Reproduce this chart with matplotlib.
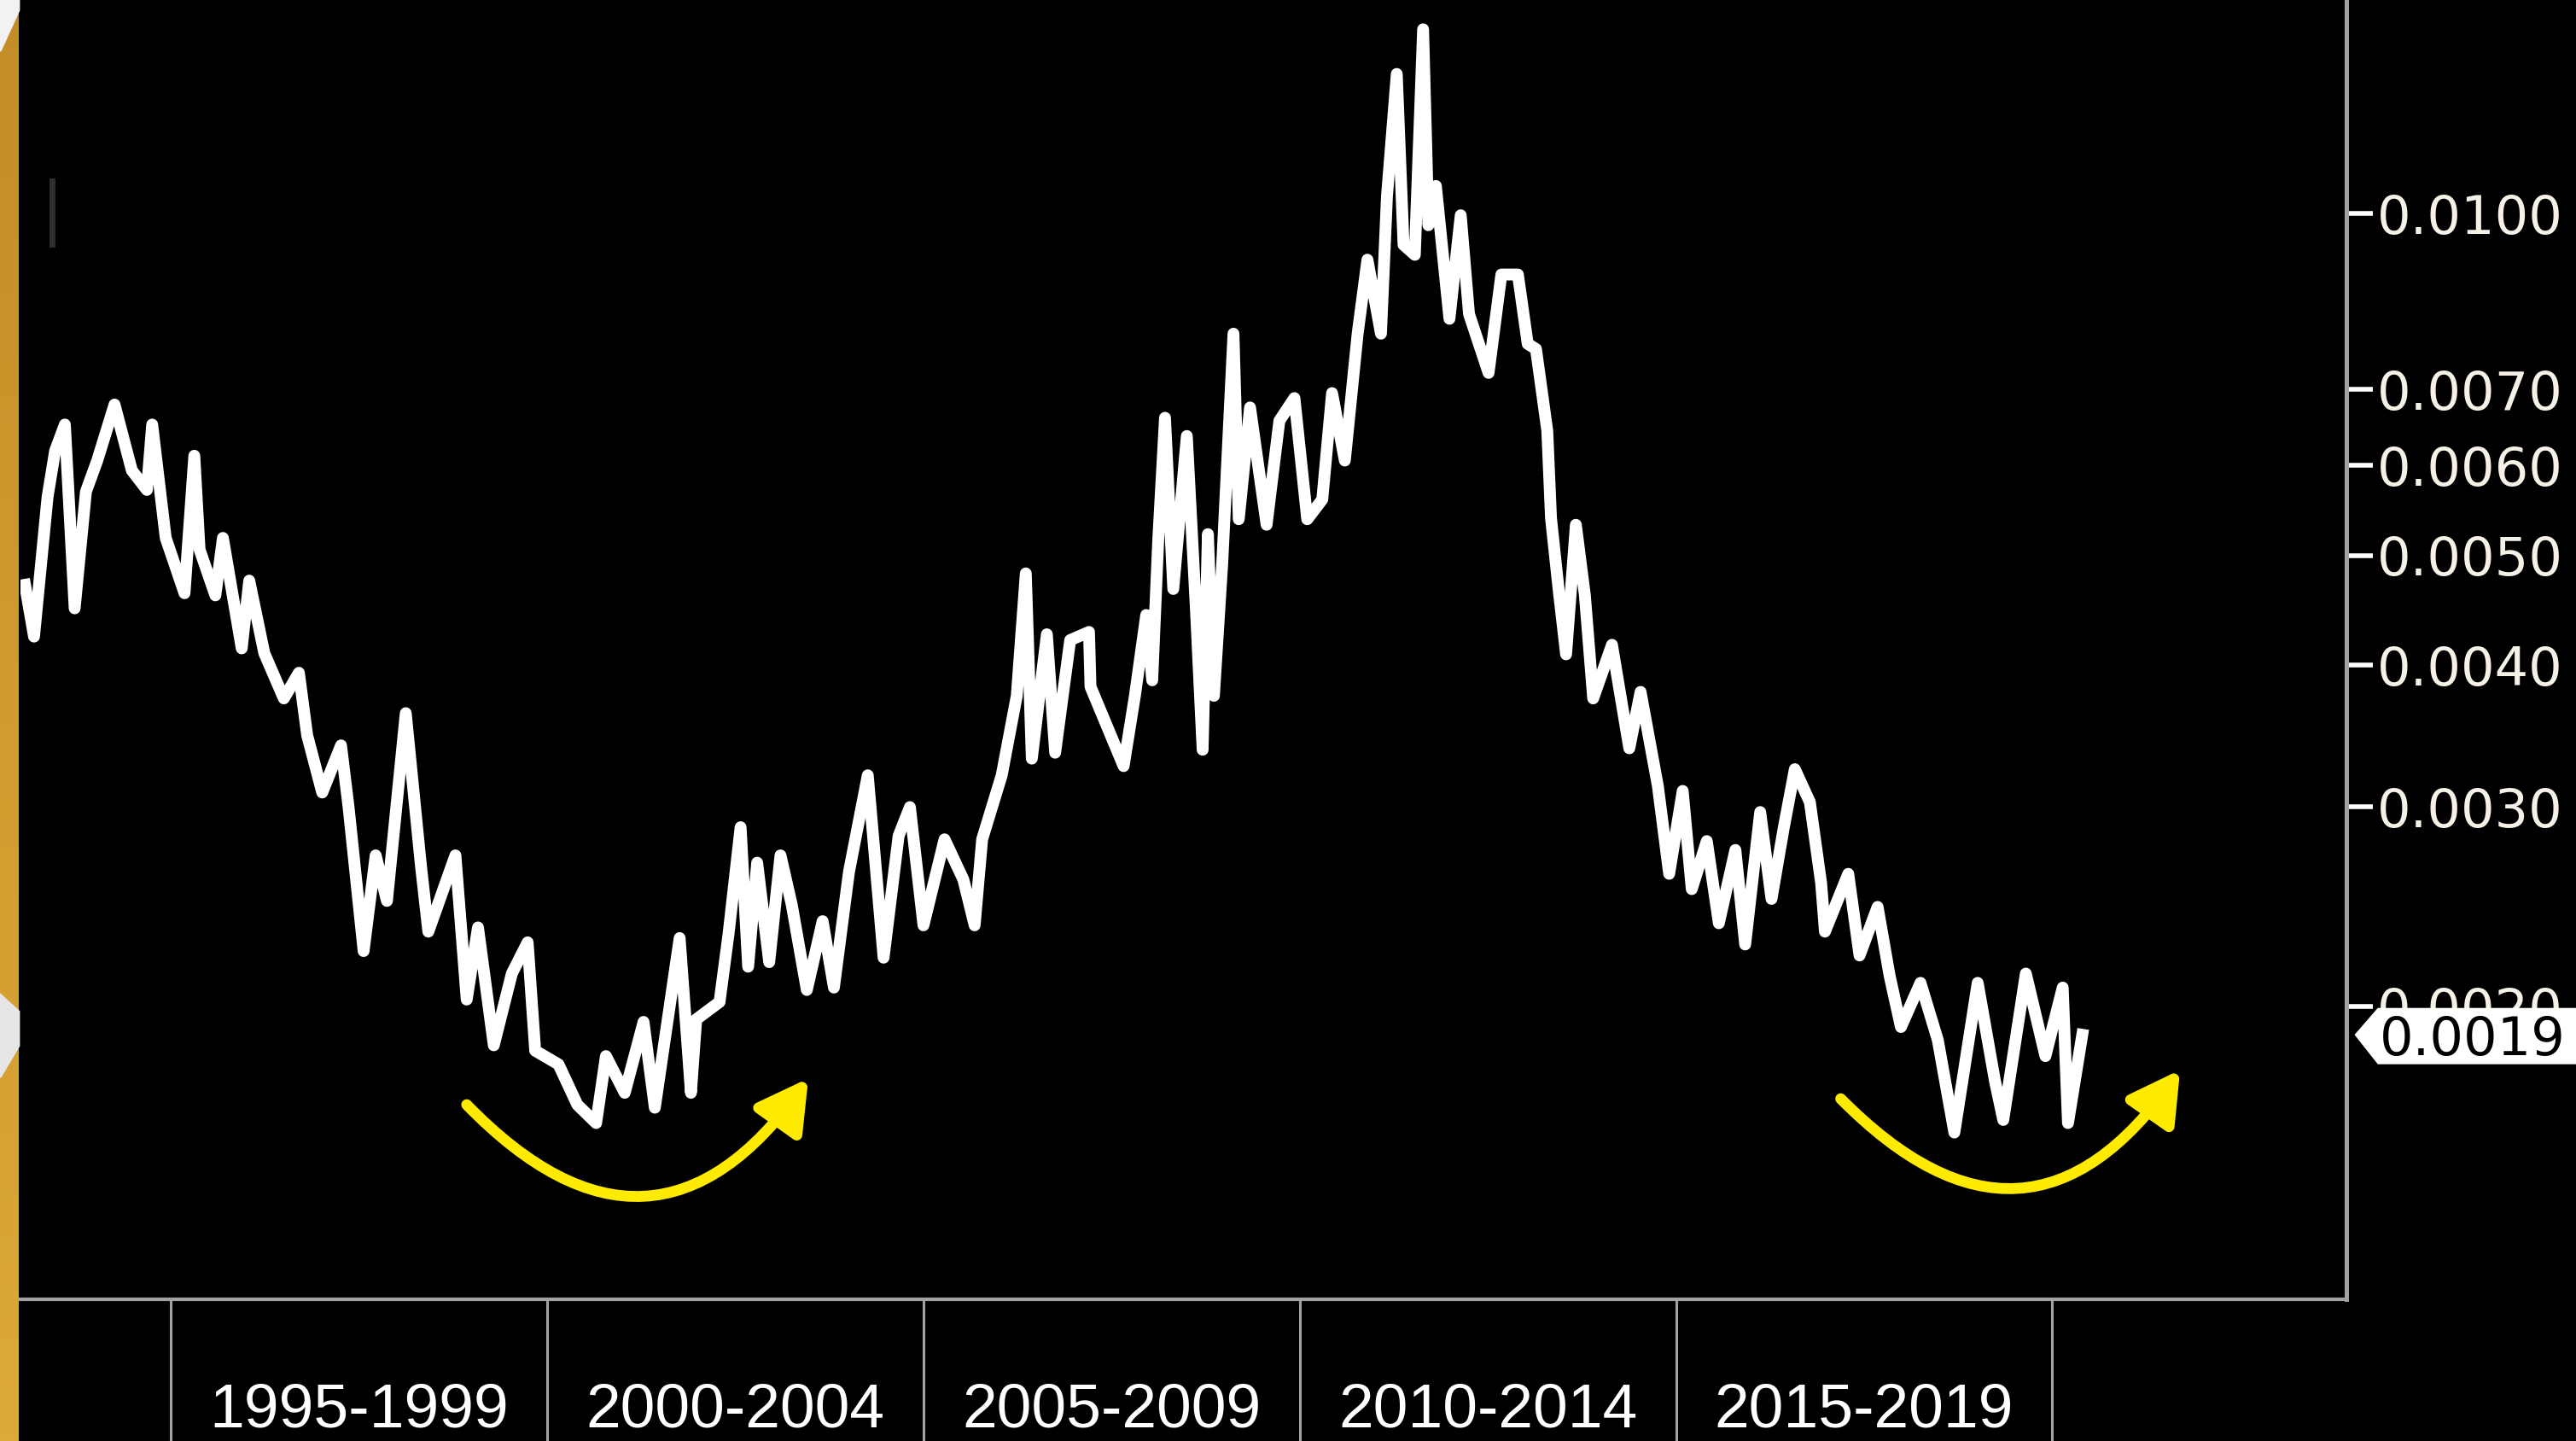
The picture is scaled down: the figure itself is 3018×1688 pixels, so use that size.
import matplotlib
matplotlib.use("Agg")
import matplotlib.pyplot as plt
import numpy as np
from matplotlib.colors import LinearSegmentedColormap
from matplotlib.patches import FancyArrowPatch, Polygon
from matplotlib.ticker import FixedLocator, NullLocator

# ---- data (decimal year, value) ----
YEARS = [
    1993.06, 1993.18, 1993.36, 1993.46, 1993.59, 1993.72, 1993.87, 1994.02,
    1994.25, 1994.48, 1994.68, 1994.75, 1994.93, 1995.18, 1995.31, 1995.38,
    1995.59, 1995.69, 1995.94, 1996.04, 1996.24, 1996.50, 1996.70, 1996.81,
    1997.01, 1997.26, 1997.36, 1997.56, 1997.72, 1997.87, 1998.12, 1998.32,
    1998.42, 1998.78, 1998.93, 1999.08, 1999.29, 1999.53, 1999.74, 1999.84,
    2000.15, 2000.40, 2000.65, 2000.78, 2001.03, 2001.28, 2001.43, 2001.76,
    2001.91, 2001.98, 2002.29, 2002.41, 2002.57, 2002.67, 2002.79, 2002.95,
    2003.10, 2003.25, 2003.45, 2003.66, 2003.81, 2004.01, 2004.26, 2004.47,
    2004.67, 2004.82, 2005.00, 2005.28, 2005.53, 2005.68, 2005.78, 2006.04,
    2006.24, 2006.36, 2006.44, 2006.64, 2006.75, 2006.95, 2007.20, 2007.22,
    2007.66, 2007.81, 2007.96, 2008.04, 2008.12, 2008.21, 2008.32, 2008.50,
    2008.62, 2008.71, 2008.78, 2008.86, 2008.97, 2009.12, 2009.19, 2009.34,
    2009.56, 2009.73, 2009.93, 2010.10, 2010.30, 2010.43, 2010.60, 2010.77,
    2010.90, 2011.08, 2011.16, 2011.29, 2011.38, 2011.53, 2011.64, 2011.71,
    2011.81, 2011.99, 2012.14, 2012.25, 2012.51, 2012.68, 2012.90, 2013.03,
    2013.14, 2013.29, 2013.34, 2013.44, 2013.54, 2013.67, 2013.79, 2013.90,
    2014.15, 2014.38, 2014.53, 2014.76, 2014.91, 2015.09, 2015.21, 2015.41,
    2015.57, 2015.79, 2015.92, 2016.12, 2016.27, 2016.43, 2016.58, 2016.78,
    2016.93, 2016.98, 2017.29, 2017.44, 2017.68, 2017.84, 2017.99, 2018.25,
    2018.48, 2018.70, 2019.01, 2019.24, 2019.35, 2019.65, 2019.91, 2020.14,
    2020.21, 2020.40,
]
VALUES = [
    0.00471, 0.00424, 0.00563, 0.00618, 0.00652, 0.00449, 0.00569, 0.00606,
    0.00679, 0.00594, 0.00571, 0.00652, 0.00518, 0.00463, 0.00612, 0.00506,
    0.00461, 0.00518, 0.00414, 0.00475, 0.00410, 0.00374, 0.00394, 0.00347,
    0.00309, 0.00340, 0.00300, 0.00224, 0.00272, 0.00248, 0.00363, 0.00267,
    0.00233, 0.00272, 0.00203, 0.00235, 0.00185, 0.00214, 0.00228, 0.00183,
    0.00178, 0.00164, 0.00158, 0.00181, 0.00168, 0.00194, 0.00163, 0.00230,
    0.00168, 0.00195, 0.00202, 0.00232, 0.00288, 0.00217, 0.00268, 0.00219,
    0.00272, 0.00246, 0.00207, 0.00238, 0.00208, 0.00263, 0.00320, 0.00221,
    0.00283, 0.00300, 0.00236, 0.00281, 0.00259, 0.00236, 0.00281, 0.00320,
    0.00376, 0.00482, 0.00331, 0.00426, 0.00335, 0.00421, 0.00428, 0.00383,
    0.00326, 0.00376, 0.00443, 0.00388, 0.00516, 0.00661, 0.00467, 0.00637,
    0.00449, 0.00337, 0.00522, 0.00376, 0.00491, 0.00784, 0.00538, 0.00675,
    0.00532, 0.00657, 0.00688, 0.00538, 0.00560, 0.00695, 0.00606, 0.00784,
    0.00911, 0.00784, 0.01037, 0.01328, 0.00939, 0.00920, 0.01454, 0.00977,
    0.01058, 0.00808, 0.00997, 0.00816, 0.00724, 0.00884, 0.00884, 0.00768,
    0.00760, 0.00644, 0.00539, 0.00467, 0.00409, 0.00532, 0.00461, 0.00374,
    0.00417, 0.00338, 0.00379, 0.00313, 0.00262, 0.00310, 0.00254, 0.00280,
    0.00237, 0.00275, 0.00227, 0.00297, 0.00249, 0.00287, 0.00324, 0.00303,
    0.00257, 0.00233, 0.00262, 0.00222, 0.00245, 0.00213, 0.00192, 0.00210,
    0.00187, 0.00155, 0.00210, 0.00172, 0.00159, 0.00214, 0.00181, 0.00208,
    0.00158, 0.00189,
]

PERIOD_EDGES = [1995, 2000, 2005, 2010, 2015, 2020]
PERIOD_LABELS = ["1995-1999", "2000-2004", "2005-2009", "2010-2014", "2015-2019"]
Y_TICKS = [0.0100, 0.0070, 0.0060, 0.0050, 0.0040, 0.0030, 0.0020]

# yellow "rounding bottom" arrows: (start, end) as (year, value)
ARROWS = [
    ((1998.93, 0.00164), (2003.47, 0.00173)),
    ((2017.19, 0.00166), (2021.70, 0.00176)),
]

W, H = 3018, 1688
DPI = 200
GOLD_W = 22

fig = plt.figure(figsize=(W / DPI, H / DPI), dpi=DPI, facecolor="black")

# gold strip on the far left
strip = fig.add_axes([0, 0, GOLD_W / W, 1])
grad = np.linspace(0, 1, 256).reshape(-1, 1)
gold = LinearSegmentedColormap.from_list("gold", ["#c48d28", "#dcaa36"])
strip.imshow(grad, aspect="auto", cmap=gold, extent=[0, 1, 0, 1])
strip.set_axis_off()
fig.add_artist(Polygon([(0, 1), (GOLD_W / W, 1), (GOLD_W / W, 1 - 12 / H), (0, 1 - 60 / H)],
                       closed=True, transform=fig.transFigure, color="#f2f2f2", zorder=5))
fig.add_artist(Polygon([(0, 1 - 1165 / H), (GOLD_W / W, 1 - 1185 / H),
                        (GOLD_W / W, 1 - 1225 / H), (0, 1 - 1262 / H)],
                       closed=True, transform=fig.transFigure, color="#e6e6e6", zorder=5))
# faint mark top-left
fig.add_artist(plt.Line2D([61 / W, 61 / W], [1 - 212 / H, 1 - 286 / H],
                          transform=fig.transFigure, color="#2e2e2e", lw=2.5))

ax_left, ax_right, ax_bottom = 24, 2749, 166
ax = fig.add_axes([ax_left / W, ax_bottom / H, (ax_right - ax_left) / W, (H - ax_bottom) / H])
ax.set_facecolor("black")

ax.plot(YEARS, VALUES, color="white", lw=5.0, solid_joinstyle="round", zorder=3)

ax.set_yscale("log")
ax.set_xlim(1993.0, 2023.91)
ax.set_ylim(0.001105, 0.01543)

for side in ["top", "left"]:
    ax.spines[side].set_visible(False)
ax.spines["right"].set_color("#a3a3a3")
ax.spines["right"].set_linewidth(1.8)
ax.spines["bottom"].set_color("#a3a3a3")
ax.spines["bottom"].set_linewidth(1.5)

ax.yaxis.tick_right()
ax.yaxis.set_major_locator(FixedLocator(Y_TICKS))
ax.yaxis.set_minor_locator(NullLocator())
ax.set_yticklabels([f"{t:.4f}" for t in Y_TICKS])
ax.tick_params(axis="y", which="major", colors="white", labelcolor="#f6f1e6",
               length=11, width=2, pad=2, labelsize=22.4)
ax.set_xticks([])

# period separators and labels below the axis
xform = ax.get_xaxis_transform()
for e in PERIOD_EDGES:
    ax.plot([e, e], [0, -0.12], transform=xform, color="#a3a3a3", lw=1.1, clip_on=False)
for i, lab in enumerate(PERIOD_LABELS):
    mid = (PERIOD_EDGES[i] + PERIOD_EDGES[i + 1]) / 2
    ax.text(mid, -0.086, lab, transform=xform, ha="center", va="center",
            color="white", fontsize=26.4, family=["Liberation Sans", "DejaVu Sans"])

# last-value tag on the right axis (covers most of the 0.0020 label, as in the source)
last = VALUES[-1]
yx = ax.get_yaxis_transform()
tag = Polygon([(1.0035, last), (1.0135, last * 1.056), (1.2, last * 1.056),
               (1.2, last * 0.942), (1.0135, last * 0.942)],
              closed=True, transform=yx, facecolor="white", edgecolor="none",
              clip_on=False, zorder=6)
ax.add_patch(tag)
ax.text(1.0142, last, f"{last:.4f}", transform=yx, ha="left", va="center_baseline",
        color="black", fontsize=22.4, clip_on=False, zorder=7)

# yellow curved arrows
for start, end in ARROWS:
    arr = FancyArrowPatch(start, end, connectionstyle="arc3,rad=0.6",
                          arrowstyle="-|>,head_length=0.8,head_width=0.45",
                          mutation_scale=22, color="#ffeb00", lw=4.6,
                          shrinkA=0, shrinkB=0, zorder=4)
    ax.add_patch(arr)

fig.savefig("out.png", dpi=DPI, facecolor="black")
